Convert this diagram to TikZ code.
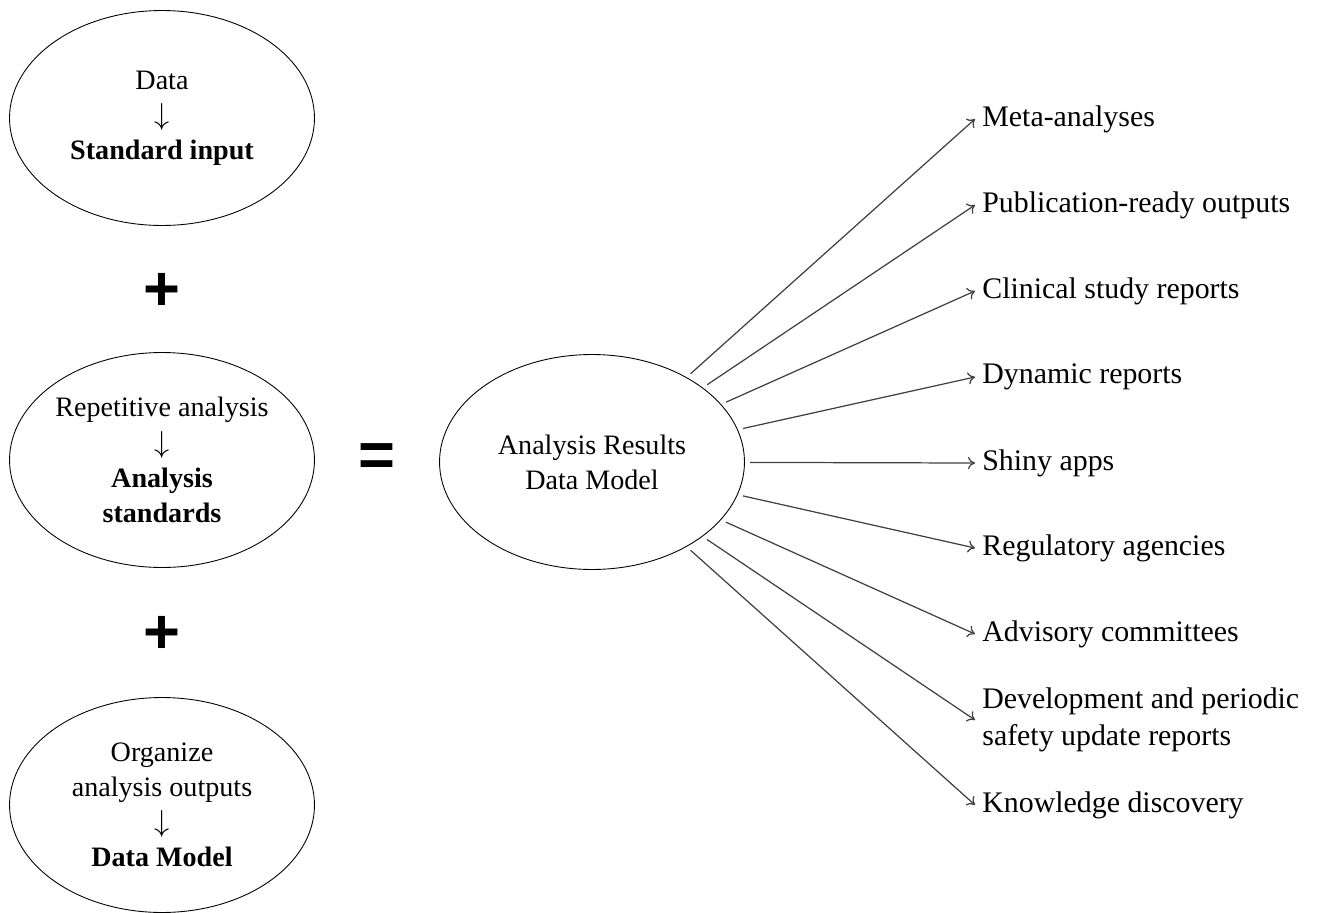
\documentclass[tikz,border=0pt]{standalone}
\usepackage{fontspec}
\setmainfont{Liberation Serif}
\newfontfamily\signfont{Liberation Sans}
\usetikzlibrary{shapes.geometric,arrows.meta}

\begin{document}
\begin{tikzpicture}[x=0.02cm, y=-0.02cm,
  blob/.style={draw, ellipse, line width=0.5pt, minimum width=6.1cm, minimum height=4.3cm, inner sep=0pt, align=center, font=\fontsize{16}{20}\selectfont},
  sign/.style={font=\fontsize{36}{40}\signfont\bfseries},
  use/.style={anchor=west, inner sep=4pt, align=left, font=\fontsize{17}{21}\selectfont},
  feed/.style={-{To[length=4pt,width=7pt]}, line width=0.7pt, black!75, shorten <=3pt}]
\useasboundingbox (0,0) rectangle (1326,913);
% inputs
\node[blob] (input) at (162,118) {Data\\$\downarrow$\\\textbf{Standard input}};
\node[sign] (plusA) at (162,292) {+};
\node[blob] (stds) at (162,460) {Repetitive analysis\\$\downarrow$\\\textbf{Analysis}\\\textbf{standards}};
\node[sign] (plusB) at (162,635) {+};
\node[blob] (model) at (162,805) {Organize\\analysis outputs\\$\downarrow$\\\textbf{Data Model}};
\node[sign] (eq) at (377,460) {=};
% result
\node[blob] (ard) at (592,462) {Analysis Results\\Data Model};
% uses
\node[use] (meta) at (975,119) {Meta-analyses};
\node[use] (pub) at (975,205) {Publication-ready outputs};
\node[use] (csr) at (975,291) {Clinical study reports};
\node[use] (dyn) at (975,377) {Dynamic reports};
\node[use] (shiny) at (975,463) {Shiny apps};
\node[use] (reg) at (975,548) {Regulatory agencies};
\node[use] (adv) at (975,634) {Advisory committees};
\node[use] (dsur) at (975,720) {Development and periodic\\safety update reports};
\node[use] (know) at (975,805) {Knowledge discovery};
\draw[feed] (ard) -- (meta.west);
\draw[feed] (ard) -- (pub.west);
\draw[feed] (ard) -- (csr.west);
\draw[feed] (ard) -- (dyn.west);
\draw[feed] (ard) -- (shiny.west);
\draw[feed] (ard) -- (reg.west);
\draw[feed] (ard) -- (adv.west);
\draw[feed] (ard) -- (dsur.west);
\draw[feed] (ard) -- (know.west);
\end{tikzpicture}
\end{document}
